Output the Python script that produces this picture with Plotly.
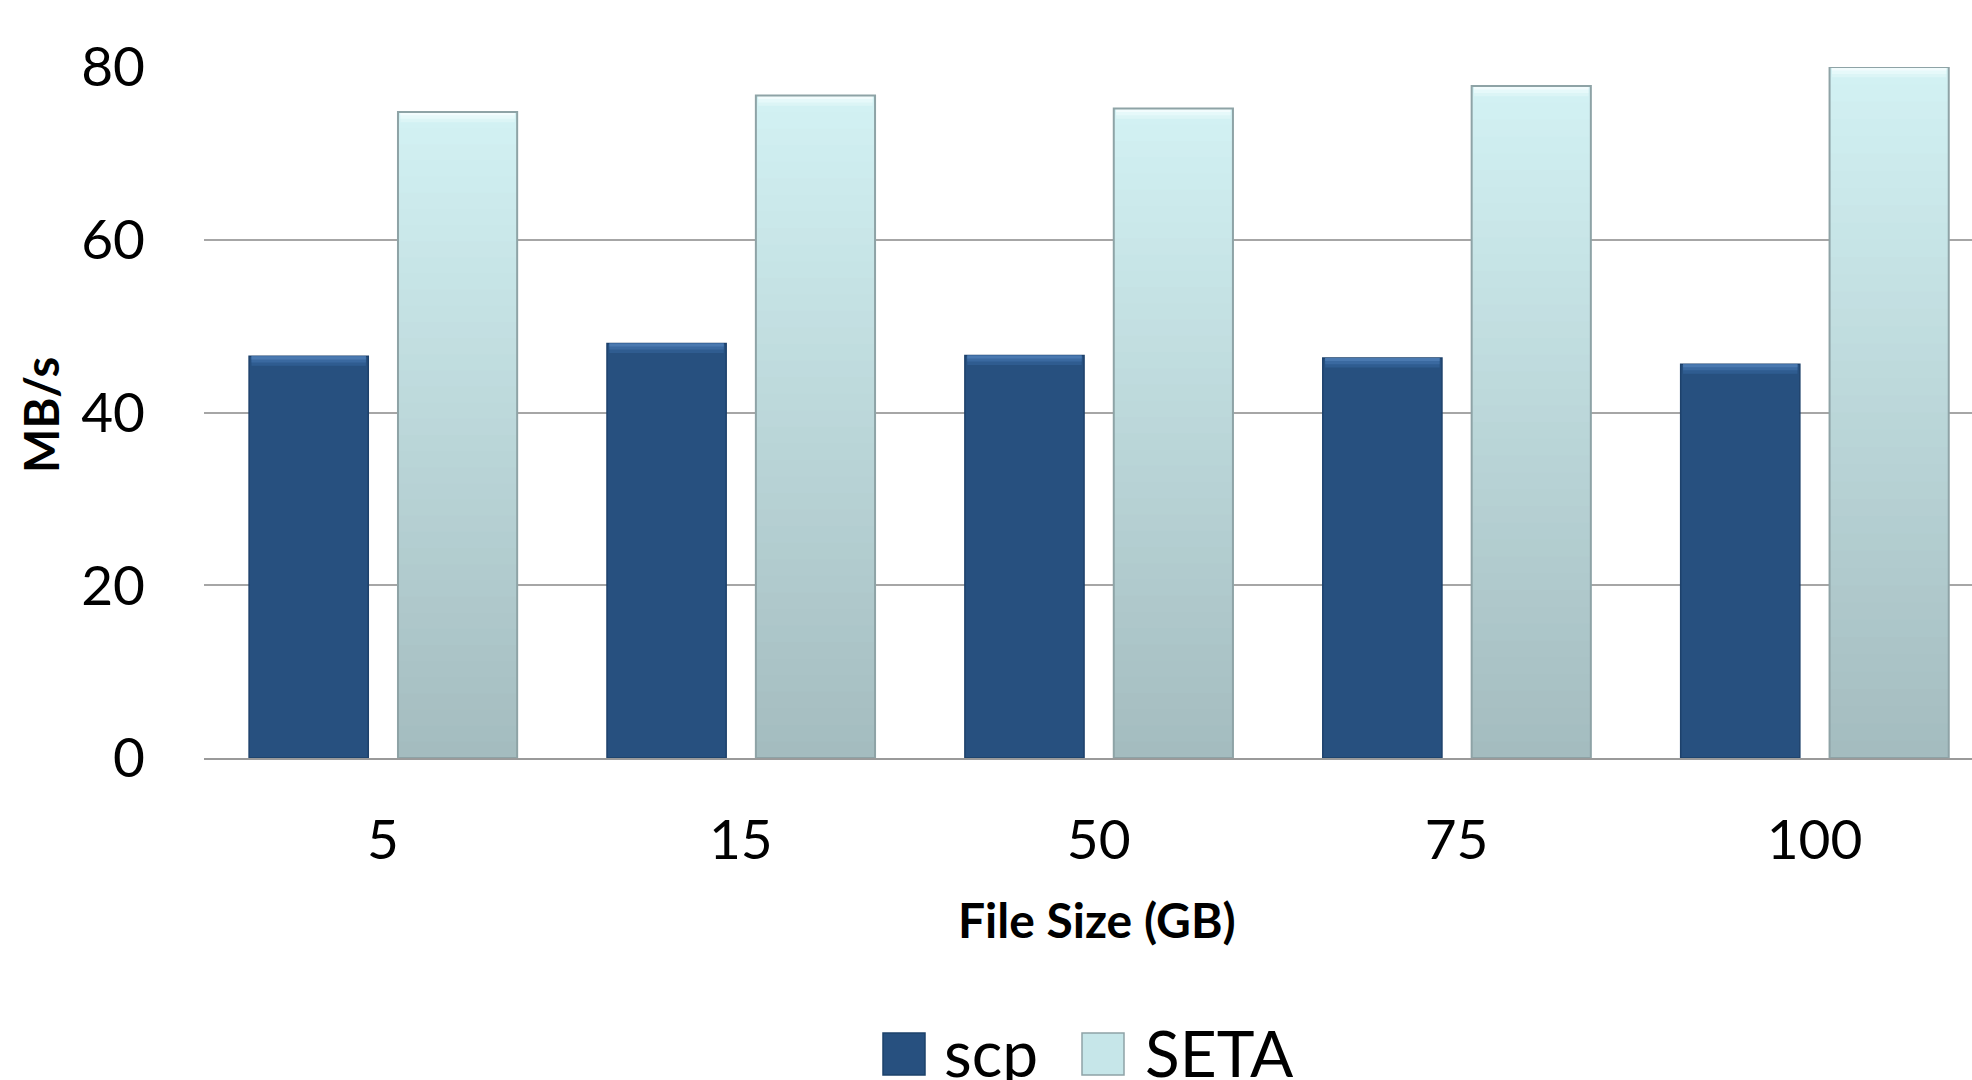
import plotly.graph_objects as go

# File sizes (GB) and measured transfer rates (MB/s)
file_sizes = ["5", "15", "50", "75", "100"]
series_names = ["scp", "SETA"]
scp_rates = [46.5, 48.0, 46.6, 46.3, 45.6]
seta_rates = [74.8, 76.7, 75.2, 77.8, 80.0]
y_ticks = [0, 20, 40, 60, 80]

W, H = 1972, 1080
PLOT_L, PLOT_R, PLOT_T, PLOT_B = 204, 1972, 67, 758

FONT = "Lato, 'Open Sans', sans-serif"

# bar geometry in category units (one category = 1.0)
BAR_W = 0.333
SCP_OFF = -0.374
SETA_OFF = 0.042


def lerp(c0, c1, t):
    return "rgb({},{},{})".format(*[round(a + (b - a) * t) for a, b in zip(c0, c1)])


fig = go.Figure()

# scp: solid dark blue
fig.add_trace(go.Bar(
    x=file_sizes, y=scp_rates, name=series_names[0],
    width=BAR_W, offset=SCP_OFF,
    marker=dict(color="#27507f", line=dict(color="#1d416b", width=1.5)),
    showlegend=False,
))
# scp bevel highlight along the top edge
for h, col in [(1.1, "#2f5c90"), (0.7, "#3a69a0"), (0.35, "#4a79b0")]:
    fig.add_trace(go.Bar(
        x=file_sizes, y=[h] * len(scp_rates), base=[v - h for v in scp_rates],
        width=BAR_W * 0.96, offset=SCP_OFF + BAR_W * 0.02,
        marker=dict(color=col, line=dict(width=0)),
        showlegend=False, hoverinfo="skip",
    ))

# SETA: vertical gradient, light cyan at the top fading to grey-teal at the base
seta_top = (210, 241, 243)
seta_bottom = (163, 187, 190)
N_LAYERS = 40
for k in range(N_LAYERS):
    f = 1 - k / N_LAYERS
    fig.add_trace(go.Bar(
        x=file_sizes, y=[v * f for v in seta_rates],
        width=BAR_W, offset=SETA_OFF,
        marker=dict(color=lerp(seta_bottom, seta_top, f), line=dict(width=0)),
        showlegend=False, hoverinfo="skip",
    ))
# SETA bevel highlight
for h, col in [(1.2, "#dcf5f6"), (0.8, "#e6f9fa"), (0.4, "#f2fcfd")]:
    fig.add_trace(go.Bar(
        x=file_sizes, y=[h] * len(seta_rates), base=[v - h for v in seta_rates],
        width=BAR_W * 0.96, offset=SETA_OFF + BAR_W * 0.02,
        marker=dict(color=col, line=dict(width=0)),
        showlegend=False, hoverinfo="skip",
    ))
# SETA outline
fig.add_trace(go.Bar(
    x=file_sizes, y=seta_rates, name=series_names[1],
    width=BAR_W, offset=SETA_OFF,
    marker=dict(color="rgba(0,0,0,0)", line=dict(color="#8ea3a6", width=2)),
    showlegend=False,
))


def px_x(px):
    return (px - PLOT_L) / (PLOT_R - PLOT_L)


def px_y(py):
    return (PLOT_B - py) / (PLOT_B - PLOT_T)


# legend drawn as swatches + labels below the axis title
legend_items = [
    (series_names[0], "#27507f", "#1d416b", 883, 942),
    (series_names[1], "#c6e6e9", "#8ea3a6", 1082, 1143),
]
shapes = []
annotations = []
for name, fill, edge, sx, tx in legend_items:
    shapes.append(dict(
        type="rect", xref="paper", yref="paper",
        x0=px_x(sx), x1=px_x(sx + 42), y0=px_y(1075), y1=px_y(1033),
        fillcolor=fill, line=dict(color=edge, width=1.5),
    ))
    annotations.append(dict(
        text=name, xref="paper", yref="paper",
        x=px_x(tx), y=px_y(1052), xanchor="left", yanchor="middle",
        showarrow=False, font=dict(family=FONT, size=64, color="#000000"),
    ))

# axis titles
annotations.append(dict(
    text="<b>File Size (GB)</b>", xref="paper", yref="paper",
    x=px_x(1097), y=px_y(919), xanchor="center", yanchor="middle",
    showarrow=False, font=dict(family=FONT, size=48, color="#000000"),
))
annotations.append(dict(
    text="<b>MB/s</b>", xref="paper", yref="paper",
    x=px_x(41), y=px_y(415), xanchor="center", yanchor="middle",
    textangle=-90, showarrow=False,
    font=dict(family=FONT, size=47, color="#000000"),
))

fig.update_layout(
    width=W, height=H,
    margin=dict(l=PLOT_L, r=W - PLOT_R, t=PLOT_T, b=H - PLOT_B, pad=0),
    paper_bgcolor="white", plot_bgcolor="white",
    barmode="overlay",
    showlegend=False,
    shapes=shapes,
    annotations=annotations,
    font=dict(family=FONT, color="#000000"),
)
fig.update_xaxes(
    type="category", range=[-0.5, 4.44],
    showgrid=False, zeroline=False,
    showline=True, linecolor="#9a9a9a", linewidth=2,
    ticks="", ticklabelstandoff=33,
    tickfont=dict(family=FONT, size=55, color="#000000"),
)
fig.update_yaxes(
    range=[0, 80], tickvals=y_ticks,
    showgrid=True, gridcolor="#a6a6a6", gridwidth=2,
    zeroline=False, showline=False,
    ticks="", ticklabelstandoff=58,
    tickfont=dict(family=FONT, size=55, color="#000000"),
)

fig.write_html("out.html")
